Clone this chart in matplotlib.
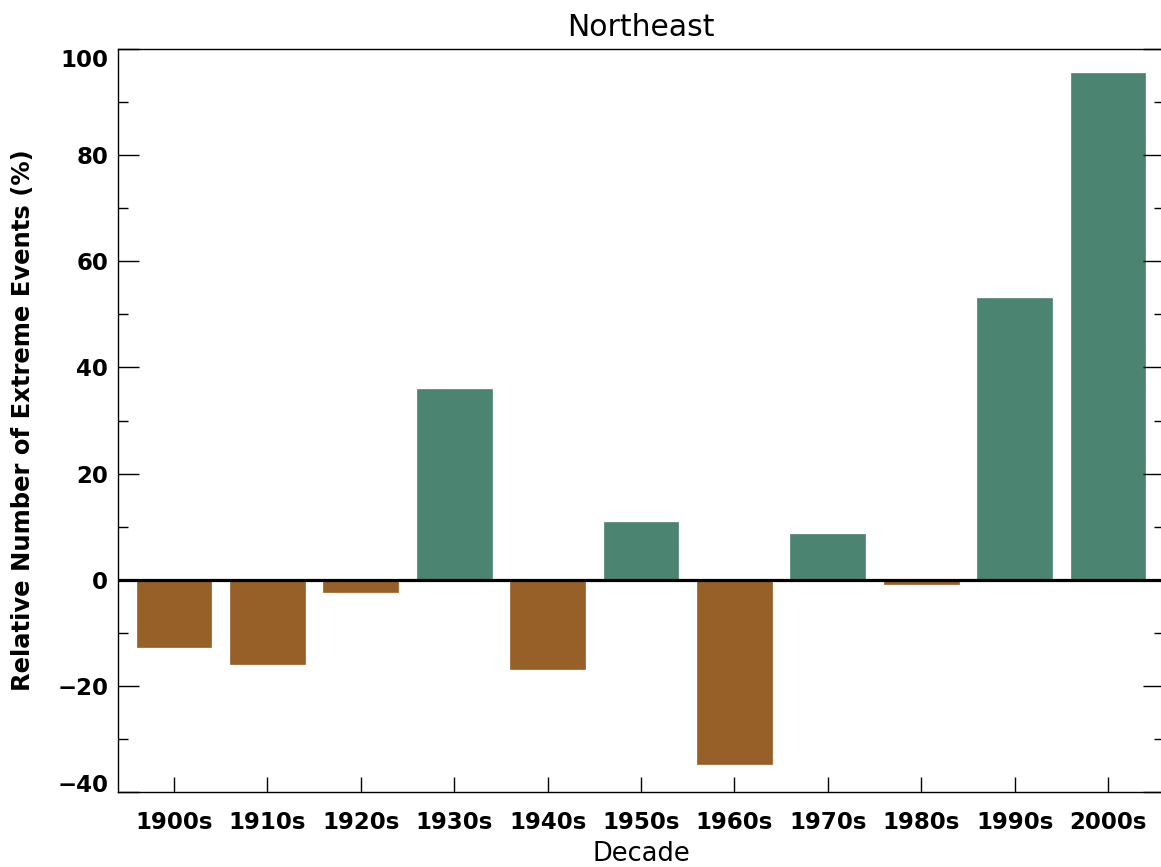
import matplotlib.pyplot as plt
import numpy as np

decades = ['1900s', '1910s', '1920s', '1930s', '1940s', '1950s',
           '1960s', '1970s', '1980s', '1990s', '2000s']
values = [-12.6, -15.9, -2.4, 36.0, -16.8, 10.9, -34.7, 8.7, -0.8, 53.1, 95.4]
yticks = [-40, -20, 0, 20, 40, 60, 80, 100]
yminor = [-30, -10, 10, 30, 50, 70, 90]

green = '#4b8470'
brown = '#976029'

plt.rcParams['font.family'] = ['DejaVu Sans']

fig = plt.figure(figsize=(11.61, 8.67), dpi=100)
# axes runs a bit past the right edge, as in the original
ax = fig.add_axes([118 / 1161, 1 - 792 / 867, 1046 / 1161, (792 - 49) / 867])

x = np.arange(len(decades))
colors = [green if v >= 0 else brown for v in values]
ax.bar(x, values, width=0.8, color=colors, edgecolor=colors, linewidth=0.5)
ax.axhline(0, color='black', lw=2.3, zorder=3)

ax.set_xlim(-0.6, 10.6)
ax.set_ylim(-40, 100)
ax.set_xticks(x)
ax.set_xticklabels(decades, fontweight='bold')
ax.set_yticks(yticks)
ax.set_yticklabels([str(t) if t >= 0 else '\u2212' + str(-t) for t in yticks],
                   fontweight='bold')
ax.set_yticks(yminor, minor=True)

ax.tick_params(axis='y', which='major', direction='in', length=15, width=1,
               right=True, labelsize=16.5, pad=7)
ax.tick_params(axis='y', which='minor', direction='in', length=7, width=1, right=True)
ax.tick_params(axis='x', which='major', direction='in', length=11, width=1,
               top=False, labelsize=16.5, pad=14)

# end labels sit inside the axis range, IDL style
ylabs = ax.yaxis.get_majorticklabels()
ylabs[0].set_va('baseline')
ylabs[-1].set_va('top')

for s in ax.spines.values():
    s.set_linewidth(1)

ax.set_title('Northeast', fontsize=21.5, pad=9)
ax.set_xlabel('Decade', fontsize=18.5, labelpad=5)
ax.set_ylabel('Relative Number of Extreme Events (%)', fontsize=17.5,
              fontweight='bold', labelpad=16)

plt.savefig('out.png', dpi=100)
plt.close()
